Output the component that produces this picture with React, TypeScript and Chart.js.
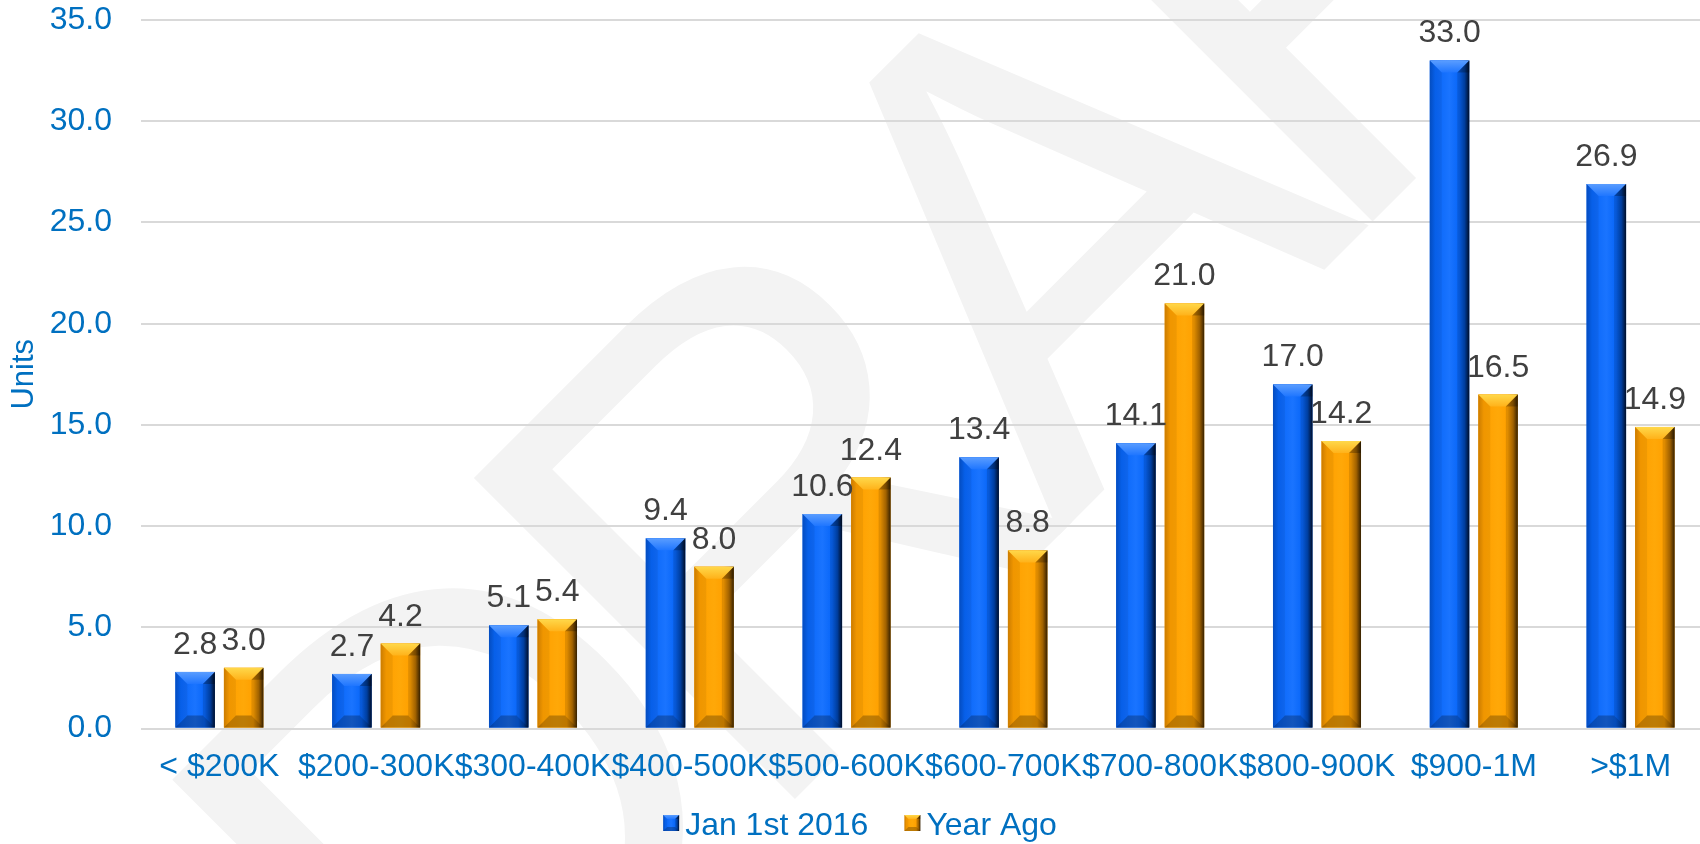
import { useEffect, useRef } from "react";
import { Chart, registerables } from "chart.js";

Chart.register(...registerables);

const categories = ["< $200K", "$200-300K", "$300-400K", "$400-500K", "$500-600K", "$600-700K", "$700-800K", "$800-900K", "$900-1M", ">$1M"];
const janSeries = [2.8, 2.7, 5.1, 9.4, 10.6, 13.4, 14.1, 17.0, 33.0, 26.9];
const yearAgoSeries = [3.0, 4.2, 5.4, 8.0, 12.4, 8.8, 21.0, 14.2, 16.5, 14.9];
const seriesNames = ["Jan 1st 2016", "Year Ago"];
const yAxisTitle = "Units";
const watermarkText = "DRAFT";

const FAMILY = '"Liberation Sans", Arial, Helvetica, sans-serif';
const AXIS_BLUE = "#0070C0";
const LABEL_GREY = "#404040";

type Pal = { main: string; edge: string; hi: string; mid: string; dark: string; top1: string; top2: string };
const palettes: Pal[] = [
  { main: "#0866f8", edge: "#0552cc", hi: "#1a74ff", mid: "#0047b5", dark: "#00102e", top1: "#5a9dff", top2: "#1f76ff" },
  { main: "#ffa000", edge: "#d98400", hi: "#ffa808", mid: "#b87000", dark: "#3d2500", top1: "#ffd84a", top2: "#ffb21a" },
];

function poly(ctx: CanvasRenderingContext2D, pts: number[][], fill: string | CanvasGradient) {
  ctx.beginPath();
  ctx.moveTo(pts[0][0], pts[0][1]);
  for (let i = 1; i < pts.length; i++) ctx.lineTo(pts[i][0], pts[i][1]);
  ctx.closePath();
  ctx.fillStyle = fill;
  ctx.fill();
}

function bevelBox(ctx: CanvasRenderingContext2D, l: number, t: number, r: number, b: number, pal: Pal, bevel: number) {
  const w = r - l;
  const h = b - t;
  if (h <= 0 || w <= 0) return;
  const k = Math.min(bevel, w / 2, h / 2);
  const g = ctx.createLinearGradient(l, 0, r, 0);
  g.addColorStop(0, pal.edge);
  g.addColorStop(0.14, pal.main);
  g.addColorStop(0.5, pal.hi);
  g.addColorStop(0.74, pal.main);
  g.addColorStop(0.88, pal.mid);
  g.addColorStop(1, pal.dark);
  ctx.fillStyle = g;
  ctx.fillRect(l, t, w, h);
  const tg = ctx.createLinearGradient(0, t, 0, t + k);
  tg.addColorStop(0, pal.top1);
  tg.addColorStop(1, pal.top2);
  poly(ctx, [[l, t], [r, t], [r - k, t + k], [l + k, t + k]], tg);
  poly(ctx, [[r, t], [r - k, t + k], [r, t + k]], "rgba(0,0,0,0.35)");
  poly(ctx, [[l, b], [r, b], [r - k, b - k], [l + k, b - k]], "rgba(0,0,0,0.26)");
  poly(ctx, [[l, t], [l + k, t + k], [l + k, b - k], [l, b]], "rgba(0,0,0,0.06)");
  poly(ctx, [[r, t + k], [r - k, t + k], [r - k, b - k], [r, b]], "rgba(0,0,0,0.12)");
}

const watermarkPlugin = {
  id: "watermark",
  beforeDraw(chart: any) {
    const ctx: any = chart.ctx;
    ctx.save();
    ctx.font = `660px ${FAMILY}`;
    ctx.fillStyle = "#f3f3f3";
    ctx.textAlign = "left";
    ctx.textBaseline = "alphabetic";
    const word = watermarkText;
    const wD = ctx.measureText(word[0]).width;
    const wR = ctx.measureText(word[1]).width;
    const wA = ctx.measureText(word[2]).width;
    const ls = -50;
    ctx.letterSpacing = `${ls}px`;
    ctx.translate(1214, 380);
    ctx.rotate((-45 * Math.PI) / 180);
    ctx.fillText(word, -(wD + wR + 2 * ls + wA / 2), 0);
    ctx.restore();
  },
};

const barStylePlugin = {
  id: "barStyle",
  afterDatasetsDraw(chart: any) {
    const ctx: CanvasRenderingContext2D = chart.ctx;
    const area = chart.chartArea;
    ctx.save();
    ctx.beginPath();
    ctx.rect(area.left, 0, area.right - area.left, area.bottom);
    ctx.clip();
    chart.data.datasets.forEach((ds: any, di: number) => {
      const meta = chart.getDatasetMeta(di);
      meta.data.forEach((bar: any) => {
        const l = bar.x - bar.width / 2;
        const r = bar.x + bar.width / 2;
        bevelBox(ctx, l, bar.y, r, bar.base, palettes[di], 12);
      });
    });
    ctx.restore();
    ctx.save();
    ctx.font = `32px ${FAMILY}`;
    ctx.fillStyle = LABEL_GREY;
    ctx.textAlign = "center";
    ctx.textBaseline = "alphabetic";
    chart.data.datasets.forEach((ds: any, di: number) => {
      const meta = chart.getDatasetMeta(di);
      meta.data.forEach((bar: any, i: number) => {
        ctx.fillText(Number(ds.data[i]).toFixed(1), bar.x, bar.y - 18);
      });
    });
    ctx.restore();
  },
};

const legendPlugin = {
  id: "customLegend",
  afterDraw(chart: any) {
    const ctx: CanvasRenderingContext2D = chart.ctx;
    ctx.save();
    ctx.font = `32px ${FAMILY}`;
    ctx.textAlign = "left";
    ctx.textBaseline = "alphabetic";
    const box = 16;
    const gap = 6;
    const between = 36;
    const labels: string[] = chart.data.datasets.map((d: any) => d.label);
    const widths = labels.map((s) => box + gap + ctx.measureText(s).width);
    const total = widths.reduce((a, b) => a + b, 0) + between * (labels.length - 1);
    let x = chart.width / 2 - total / 2;
    const baseline = chart.height - 9;
    labels.forEach((s, i) => {
      bevelBox(ctx, x, baseline - 20, x + box, baseline - 20 + box, palettes[i], 4);
      ctx.fillStyle = AXIS_BLUE;
      ctx.fillText(s, x + box + gap, baseline);
      x += widths[i] + between;
    });
    ctx.restore();
  },
};

export default function App() {
  const ref = useRef<HTMLCanvasElement | null>(null);
  useEffect(() => {
    if (!ref.current) return;
    Chart.defaults.font.family = FAMILY;
    const chart = new Chart(ref.current, {
      type: "bar",
      data: {
        labels: categories,
        datasets: [
          { label: seriesNames[0], data: janSeries, backgroundColor: palettes[0].main, categoryPercentage: 0.619, barPercentage: 0.814 },
          { label: seriesNames[1], data: yearAgoSeries, backgroundColor: palettes[1].main, categoryPercentage: 0.619, barPercentage: 0.814 },
        ],
      },
      options: {
        responsive: false,
        maintainAspectRatio: false,
        animation: false,
        layout: { padding: { left: 0, right: 11, top: 20, bottom: 39 } },
        plugins: { legend: { display: false }, tooltip: { enabled: false } },
        scales: {
          x: {
            grid: { display: false, drawTicks: false },
            border: { display: false },
            ticks: { color: AXIS_BLUE, font: { size: 32, family: FAMILY }, padding: 19, autoSkip: false, maxRotation: 0, minRotation: 0 },
          },
          y: {
            min: 0,
            max: 35,
            grid: { color: "#d9d9d9", lineWidth: 2, drawTicks: false },
            border: { display: false },
            ticks: { stepSize: 5, color: AXIS_BLUE, font: { size: 32, family: FAMILY }, padding: 29, callback: (v: any) => Number(v).toFixed(1) },
            title: { display: true, text: yAxisTitle, color: AXIS_BLUE, font: { size: 31, family: FAMILY }, padding: { top: 6, bottom: 0 } },
            afterFit: (s: any) => {
              s.width = 141;
              s.paddingTop = 0;
              s.paddingBottom = 0;
            },
          },
        },
      } as any,
      plugins: [watermarkPlugin, barStylePlugin, legendPlugin],
    });
    return () => chart.destroy();
  }, []);
  return (
    <div style={{ position: "fixed", left: 0, top: 0, width: 1700, height: 844, overflow: "hidden", background: "#ffffff" }}>
      <canvas ref={ref} width={1720} height={844} style={{ width: 1720, height: 844, display: "block" }} />
    </div>
  );
}
